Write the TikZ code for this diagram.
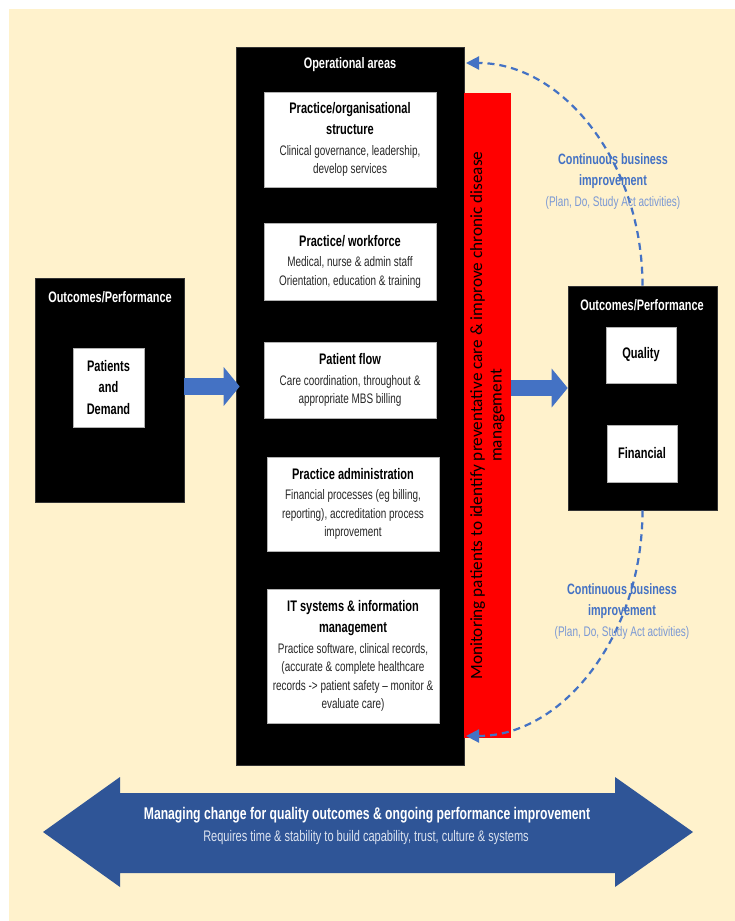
\documentclass[tikz,border=0pt]{standalone}
\usepackage{fontspec}
\setmainfont[FakeStretch=0.72]{Liberation Sans}
\newfontfamily\carlito{Carlito}
\usetikzlibrary{arrows.meta}
\definecolor{cream}{HTML}{FFF2CC}
\definecolor{mblue}{HTML}{4472C4}
\definecolor{dblue}{HTML}{2F5597}
\definecolor{lblue}{HTML}{7A98D4}
\definecolor{pale}{HTML}{DCE3F0}
\definecolor{dgray}{HTML}{262626}
\newcommand\ttlf{\bfseries\fontsize{15.3}{18.5}\selectfont\color{black}}
\newcommand\descf{\fontsize{13.8}{18.5}\selectfont\color{dgray}}
\newcommand\pdsa{\mdseries\fontsize{13.9}{18}\selectfont\color{lblue}}
\begin{document}
\begin{tikzpicture}[x=1pt,y=-1pt,
  blackbox/.style={fill=black, draw=black!80, line width=0.6pt, inner sep=0pt},
  whitebox/.style={fill=white, draw=black!30, line width=0.6pt, inner sep=0pt, align=center, font=\fontsize{14}{18.5}\selectfont},
  wtitle/.style={text=white, font=\bfseries\fontsize{15.2}{18}\selectfont, inner sep=0pt},
  blockarrow/.style={draw=mblue, line width=17pt, -{Triangle[length=16pt,width=38pt]}},
  loopdash/.style={draw=mblue, line width=2.2pt, dash pattern=on 7pt off 5pt, -{Triangle[length=13pt,width=13pt]}},
  cbilabel/.style={text=mblue, align=center, inner sep=0pt, font=\bfseries\fontsize{15}{21}\selectfont}
]
\fill[white] (0,0) rectangle (735,921);
\fill[cream] (9,9) rectangle (735,921);
\useasboundingbox (0,0) rectangle (735,921);

% central operational areas
\node[blackbox, minimum width=228pt, minimum height=718pt] (ops) at (350,406) {};
\node[wtitle] (opst) at (350,65) {Operational areas};
\node[fill=red, inner sep=0pt, minimum width=47pt, minimum height=645pt] (mon) at (487.5,415.5) {};
\node[rotate=90, align=center, inner sep=0pt, font=\carlito\fontsize{17.2}{19.5}\selectfont] (montxt) at (mon.center)
  {Monitoring patients to identify preventative care \& improve chronic disease\\management};

\node[whitebox, minimum width=172pt, minimum height=95pt] (b1) at (350,139.5)
  {\ttlf Practice/organisational\\[3pt]\ttlf structure\\[2pt]\descf Clinical governance, leadership,\\\descf develop services};
\node[whitebox, minimum width=172pt, minimum height=77pt] (b2) at (350,261.5)
  {\ttlf Practice/ workforce\\[2pt]\descf Medical, nurse \& admin staff\\\descf Orientation, education \& training};
\node[whitebox, minimum width=172pt, minimum height=76pt] (b3) at (350,380)
  {\ttlf Patient flow\\[2pt]\descf Care coordination, throughout \&\\\descf appropriate MBS billing};
\node[whitebox, minimum width=172pt, minimum height=94pt] (b4) at (353,504)
  {\ttlf Practice administration\\[2pt]\descf Financial processes (eg billing,\\\descf reporting), accreditation process\\\descf improvement};
\node[whitebox, minimum width=172pt, minimum height=134pt] (b5) at (353,656)
  {\ttlf IT systems \& information\\[3pt]\ttlf management\\[2pt]\descf Practice software, clinical records,\\\descf (accurate \& complete healthcare\\\descf records -> patient safety -- monitor \&\\\descf evaluate care)};

% left outcomes box
\node[blackbox, minimum width=149pt, minimum height=224pt] (inL) at (109.5,390) {};
\node[wtitle] (inLt) at (110,297) {Outcomes/Performance};
\node[whitebox, minimum width=71pt, minimum height=79pt, font=\bfseries\fontsize{15.3}{21.5}\selectfont] (pat) at (108.5,387.5)
  {Patients\\and\\Demand};

% right outcomes box
\node[blackbox, minimum width=149pt, minimum height=224pt] (outR) at (642.5,398) {};
\node[wtitle] (outRt) at (642,305) {Outcomes/Performance};
\node[whitebox, minimum width=70pt, minimum height=56pt, font=\bfseries\fontsize{15.3}{18}\selectfont] (qual) at (641,355) {Quality};
\node[whitebox, minimum width=70pt, minimum height=57pt, font=\bfseries\fontsize{15.3}{18}\selectfont] (fin) at (642,453.5) {Financial};

% block arrows
\coordinate (la) at (0,386.5);
\coordinate (ra) at (0,388);
\draw[blockarrow] (inL.east |- la) -- ([xshift=4pt]ops.west |- la);
\draw[blockarrow, line width=16pt] (mon.east |- ra) -- (outR.west |- ra);

% continuous improvement loops
\coordinate (tu) at (466,63);
\coordinate (td) at (466,736);
\draw[loopdash] (outR.north) .. controls +(0,-123) and +(97,0) .. (tu);
\draw[loopdash] (outR.south) .. controls +(0,125) and +(97,0) .. (td);
\node[cbilabel] (cbu) at (613,182)
  {Continuous business\\improvement\\\pdsa (Plan, Do, Study Act activities)};
\node[cbilabel] (cbd) at (622,611)
  {Continuous business\\improvement\\\pdsa (Plan, Do, Study Act activities)};

% bottom double arrow
\fill[dblue] (43,832) -- (120,777) -- (120,793) -- (615,793) -- (615,777) -- (693,832)
  -- (615,887) -- (615,873) -- (120,873) -- (120,887) -- cycle;
\node[text=white, inner sep=0pt, font=\bfseries\fontsize{16.9}{18}\selectfont] (chg1) at (367,815)
  {Managing change for quality outcomes \& ongoing performance improvement};
\node[text=pale, inner sep=0pt, font=\fontsize{15.3}{16}\selectfont] (chg2) at (366,838)
  {Requires time \& stability to build capability, trust, culture \& systems};
\end{tikzpicture}
\end{document}
